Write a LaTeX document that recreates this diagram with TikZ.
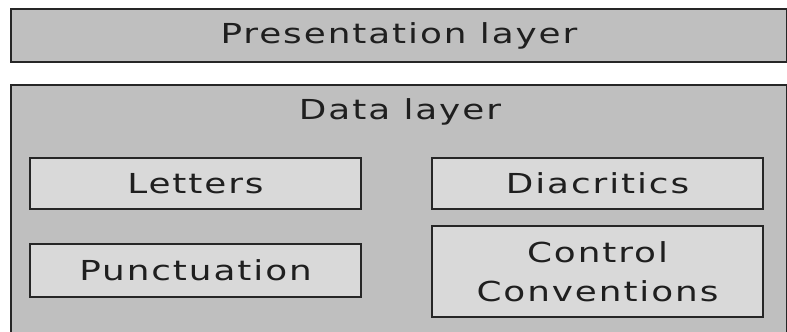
\documentclass[tikz,border=0pt]{standalone}
\usepackage{fontspec}
\setmainfont{DejaVu Sans}[LetterSpace=7, FakeStretch=1.3]
\definecolor{layergray}{HTML}{BFBFBF}
\definecolor{partgray}{HTML}{D9D9D9}
\definecolor{edgegray}{HTML}{262626}
\begin{document}
\begin{tikzpicture}[
    x=0.03cm, y=-0.03cm,
    every node/.style={font=\fontsize{23.5}{33}\selectfont, text=black!88},
    layerbox/.style={
        draw=edgegray,
        line width=1.6pt,
        fill=layergray,
        inner sep=0pt,
        minimum width=776*0.03cm
    },
    partbox/.style={
        draw=edgegray,
        line width=1.4pt,
        fill=partgray,
        align=center,
        inner sep=0pt,
        minimum width=331*0.03cm
    }
]

    \useasboundingbox (0,0) rectangle (787,331);

    % Presentation layer
    \node[
        layerbox,
        minimum height=53*0.03cm
    ] (pres) at (399,35.5) {Presentation layer};

    % Data layer and its parts
    \node[
        layerbox,
        minimum height=260*0.03cm
    ] (data) at (399,215) {};
    \node (datatitle) at (400,112) {Data layer};

    \node[partbox, minimum height=51*0.03cm] (letters) at (195.5,183.5) {Letters};
    \node[partbox, minimum height=53*0.03cm] (punct) at (195.5,270.5) {Punctuation};
    \node[partbox, minimum height=51*0.03cm] (diacr) at (597.5,183.5) {Diacritics};
    \node[partbox, minimum height=91*0.03cm] (control) at (597.5,271.5) {Control\\Conventions};

\end{tikzpicture}
\end{document}
